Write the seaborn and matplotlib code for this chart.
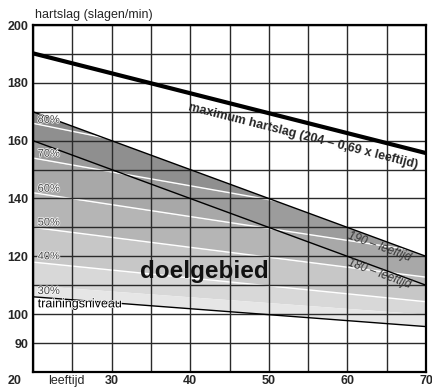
import numpy as np
import pandas as pd
import matplotlib
matplotlib.use("Agg")
import matplotlib.pyplot as plt
import matplotlib.patheffects as pe
from matplotlib.patches import Polygon
import seaborn as sns

# leeftijd eindpunten van de (rechte) lijnen
ages = [20, 70]
max_hr = [190.2, 155.7]          # 204 - 0,69 x leeftijd
line_190 = [170, 120]            # 190 - leeftijd
line_180 = [160, 110]            # 180 - leeftijd
pct_labels = ["80%", "70%", "60%", "50%", "40%", "30%"]
pct_at_20 = [166, 154, 142, 130, 118, 106]
pct_at_70 = [138.5, 130, 121.4, 112.8, 104.3, 95.7]
pct_label_y = [167.2, 155.5, 143.4, 131.7, 120, 108]
split_line = [110, 100]          # overgang lichtste vlakken
band_colors = ["#949494", "#9a9a9a", "#a8a8a8", "#b5b5b5", "#c7c7c7", "#d8d8d8", "#e6e6e6"]

yticks = [80, 90, 100, 110, 120, 130, 140, 150, 160, 170, 180, 190, 200]
ylabels = ["", "90", "100", "", "120", "", "140", "", "160", "", "180", "", "200"]
xticks = [20, 25, 30, 35, 40, 45, 50, 55, 60, 65, 70]
xlabels = ["", "", "30", "", "40", "", "50", "", "60", "", "70"]

sns.set_theme(style="white")
plt.rcParams["font.family"] = ["Liberation Sans", "DejaVu Sans"]

fig = plt.figure(figsize=(4.32, 3.87), dpi=100)
ax = fig.add_axes([0.0764, 0.0388, 0.9097, 0.8966])
ax.set_xlim(20, 70)
ax.set_ylim(80, 200)

# grenzen van de vlakken, van boven naar beneden
bounds = [[200, 200]] + [[a, b] for a, b in zip(pct_at_20[:5], pct_at_70[:5])] + [split_line, [pct_at_20[5], pct_at_70[5]]]
clip = Polygon([(ages[0], line_190[0]), (ages[1], line_190[1]),
                (ages[1], pct_at_70[5]), (ages[0], pct_at_20[5])],
               closed=True, transform=ax.transData, facecolor="none", edgecolor="none")
ax.add_patch(clip)
for i in range(len(bounds) - 1):
    f = ax.fill_between(ages, bounds[i + 1], bounds[i], color=band_colors[i], lw=0, zorder=1)
    f.set_clip_path(clip)
dark = ax.fill_between(ages, line_180, line_190, color="black", alpha=0.07, lw=0, zorder=1.2)
dark.set_clip_path(clip)

# witte procentlijnen
for a, b in zip(pct_at_20[:5], pct_at_70[:5]):
    l, = ax.plot(ages, [a, b], color="white", lw=1, zorder=2)
    l.set_clip_path(clip)

# raster
ax.set_xticks(xticks)
ax.set_xticklabels(xlabels, fontsize=9, fontweight="bold")
ax.set_yticks(yticks)
ax.set_yticklabels(ylabels, fontsize=9, fontweight="bold")
ax.tick_params(length=0, pad=3.5)
ax.tick_params(axis="x", pad=2)
ax.grid(True, color="#2a2a2a", lw=1)
ax.set_axisbelow(False)
for s in ax.spines.values():
    s.set_color("black")
    s.set_linewidth(1.6)
    s.set_zorder(5)

# zwarte lijnen
sns.lineplot(x=ages, y=line_190, ax=ax, color="black", lw=1, zorder=3)
sns.lineplot(x=ages, y=line_180, ax=ax, color="black", lw=1, zorder=3)
sns.lineplot(x=ages, y=[pct_at_20[5], pct_at_70[5]], ax=ax, color="black", lw=1, zorder=3)
sns.lineplot(x=ages, y=max_hr, ax=ax, color="black", lw=3, zorder=4)
ax.set_xlabel("")
ax.set_ylabel("")

halo = [pe.withStroke(linewidth=1.0, foreground="white")]
for lab, y in zip(pct_labels, pct_label_y):
    ax.text(22.0, y, lab, fontsize=8, color="#444444", ha="center", va="center",
            path_effects=halo, zorder=6)

ax.text(20.6, 103.4, "trainingsniveau", fontsize=9, color="black", ha="left", va="center",
        path_effects=halo, zorder=6)

ang_max = np.degrees(np.arctan2(max_hr[1] - max_hr[0], ages[1] - ages[0]))
ang_lft = np.degrees(np.arctan2(line_190[1] - line_190[0], ages[1] - ages[0]))
ax.text(54.3, 161.4, "maximum hartslag (204 – 0,69 x leeftijd)", fontsize=9, fontweight="bold",
        ha="center", va="center", rotation=ang_max, rotation_mode="anchor",
        transform_rotates_text=True, zorder=6)
ax.text(64.1, 123.4, "190 – leeftijd", fontsize=8.5, style="italic", color="#333333",
        ha="center", va="center", rotation=ang_lft, rotation_mode="anchor",
        transform_rotates_text=True, zorder=6)
ax.text(64.1, 113.8, "180 – leeftijd", fontsize=8.5, style="italic", color="#333333",
        ha="center", va="center", rotation=ang_lft, rotation_mode="anchor",
        transform_rotates_text=True, zorder=6)

ax.text(41.8, 114.8, "doelgebied", fontsize=17.5, fontweight="bold", color="#111111",
        ha="center", va="center", zorder=6)

ax.annotate("20", xy=(20, 80), xytext=(-8, -2), textcoords="offset points",
            ha="right", va="top", fontsize=9, fontweight="bold")
ax.annotate("leeftijd", xy=(20, 80), xytext=(11, -2), textcoords="offset points",
            ha="left", va="top", fontsize=9)
fig.text(35 / 432, 1 - 15 / 387, "hartslag (slagen/min)", fontsize=9, ha="left", va="center")

fig.savefig("out.png", dpi=100)
